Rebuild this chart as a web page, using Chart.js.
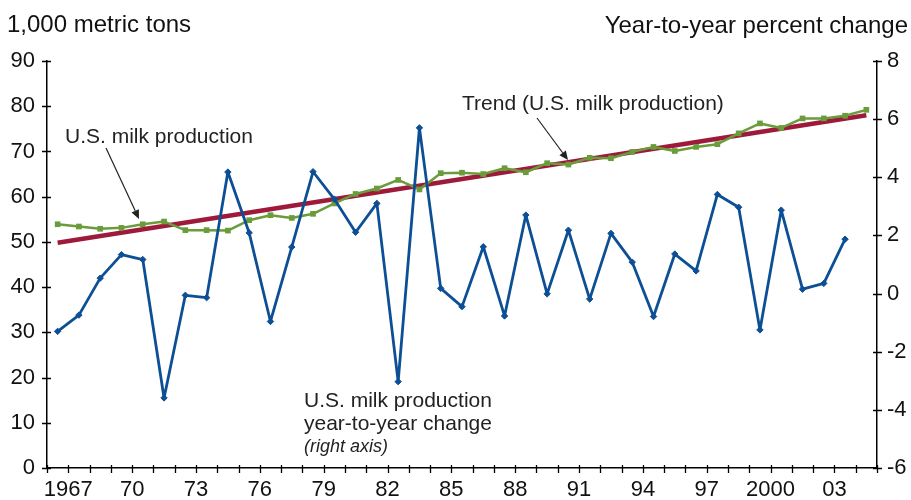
<!DOCTYPE html>
<html><head><meta charset="utf-8">
<script src="https://cdn.jsdelivr.net/npm/chart.js@4.4.1/dist/chart.umd.min.js"></script>
<style>html,body{margin:0;padding:0;background:#fff}#wrap{width:911px;height:500px;position:relative}</style>
</head><body><div id="wrap"><canvas id="c" width="911" height="500"></canvas></div>
<script>
// ---- data ----
const years = [1966,1967,1968,1969,1970,1971,1972,1973,1974,1975,1976,1977,1978,1979,1980,1981,1982,1983,1984,1985,1986,1987,1988,1989,1990,1991,1992,1993,1994,1995,1996,1997,1998,1999,2000,2001,2002,2003,2004];
// U.S. milk production, 1,000 metric tons (left axis)
const production = [53.9,53.4,52.9,53.1,53.9,54.5,52.6,52.6,52.5,54.8,55.9,55.3,56.2,58.5,60.6,61.8,63.7,61.6,65.2,65.3,65.0,66.3,65.4,67.4,67.1,68.6,68.5,69.9,71.0,70.1,71.0,71.6,74.0,76.2,75.2,77.3,77.3,77.9,79.2];
// Year-to-year percent change (right axis)
const pctChange = [-1.30,-0.74,0.53,1.34,1.17,-3.59,-0.06,-0.14,4.18,2.09,-0.96,1.60,4.19,3.25,2.11,3.10,-3.03,5.70,0.18,-0.45,1.61,-0.77,2.70,-0.01,2.18,-0.19,2.07,1.08,-0.79,1.36,0.78,3.41,2.97,-1.25,2.87,0.15,0.35,1.87];
// Trend line end points
const trendYears = [1966, 2004];
const trendValues = [49.8, 78.0];
// x-axis tick labels
const tickYears = [1967,1970,1973,1976,1979,1982,1985,1988,1991,1994,1997,2000,2003];
const tickLabels = ['1967','70','73','76','79','82','85','88','91','94','97','2000','03'];
const leftTitle = '1,000 metric tons';
const rightTitle = 'Year-to-year percent change';

const FONT = '"Liberation Sans", Arial, Helvetica, sans-serif';
const BLUE = '#0c4f94';
const GREEN = '#6a9c3b';
const RED = '#9e1a3a';
const TXT = '#222';

const boundaries = [];
for (let y = years[0]; y <= years[years.length-1] + 1; y++) boundaries.push(y);

const tickMarks = {
  id: 'tickMarks',
  afterDraw(chart) {
    const ctx = chart.ctx;
    ctx.save();
    ctx.strokeStyle = '#000';
    ctx.lineWidth = 1.3;
    const x = chart.scales.x, y = chart.scales.y, y1 = chart.scales.y1;
    const ca = chart.chartArea;
    ctx.beginPath();
    x.ticks.forEach(t => {
      const px = Math.round(x.getPixelForValue(t.value)) + 0.5;
      ctx.moveTo(px, ca.bottom - 3); ctx.lineTo(px, ca.bottom + 5);
    });
    y.ticks.forEach(t => {
      const py = Math.round(y.getPixelForValue(t.value)) + 0.5;
      ctx.moveTo(ca.left - 5, py); ctx.lineTo(ca.left + 4, py);
    });
    y1.ticks.forEach(t => {
      const py = Math.round(y1.getPixelForValue(t.value)) + 0.5;
      ctx.moveTo(ca.right - 4, py); ctx.lineTo(ca.right + 5, py);
    });
    ctx.stroke();

    // titles
    ctx.fillStyle = '#111';
    ctx.font = '24px ' + FONT;
    ctx.textBaseline = 'alphabetic';
    ctx.textAlign = 'left';
    ctx.fillText(leftTitle, 7, 32);
    ctx.textAlign = 'right';
    ctx.fillText(rightTitle, 908, 33);

    // annotations
    ctx.fillStyle = TXT;
    ctx.textAlign = 'left';
    ctx.font = '21px ' + FONT;
    ctx.fillText('U.S. milk production', 65, 143);
    ctx.fillText('Trend (U.S. milk production)', 462, 110);
    ctx.fillText('U.S. milk production', 304, 407);
    ctx.fillText('year-to-year change', 304, 430);
    ctx.font = 'italic 18px ' + FONT;
    ctx.fillText('(right axis)', 304, 452);

    const arrow = (x0, y0, x1, y1) => {
      ctx.strokeStyle = '#222';
      ctx.fillStyle = '#222';
      ctx.lineWidth = 1.2;
      const a = Math.atan2(y1 - y0, x1 - x0);
      const L = 9, W = 4;
      const bx = x1 - L * Math.cos(a), by = y1 - L * Math.sin(a);
      ctx.beginPath(); ctx.moveTo(x0, y0); ctx.lineTo(bx, by); ctx.stroke();
      ctx.beginPath();
      ctx.moveTo(x1, y1);
      ctx.lineTo(bx + W * Math.sin(a), by - W * Math.cos(a));
      ctx.lineTo(bx - W * Math.sin(a), by + W * Math.cos(a));
      ctx.closePath(); ctx.fill();
    };
    arrow(106, 148, 139, 219);
    arrow(537, 118, 568, 160);
    ctx.restore();
  }
};

new Chart(document.getElementById('c'), {
  type: 'line',
  data: {
    datasets: [
      {
        label: 'U.S. milk production year-to-year change',
        data: pctChange.map((v, i) => ({x: years[i] + 0.5, y: v})),
        yAxisID: 'y1',
        borderColor: BLUE, backgroundColor: BLUE,
        borderWidth: 2.8, borderJoinStyle: 'round', pointStyle: 'rectRot', pointRadius: 3.2,
        pointBorderWidth: 1, tension: 0, order: 0
      },
      {
        label: 'U.S. milk production',
        data: production.map((v, i) => ({x: years[i] + 0.5, y: v})),
        yAxisID: 'y',
        borderColor: GREEN, backgroundColor: GREEN,
        borderWidth: 2.5, borderJoinStyle: 'round', pointStyle: 'rect', pointRadius: 4,
        pointBorderWidth: 0, tension: 0, order: 1
      },
      {
        label: 'Trend (U.S. milk production)',
        data: trendYears.map((yr, i) => ({x: yr + 0.5, y: trendValues[i]})),
        yAxisID: 'y',
        borderColor: RED, backgroundColor: RED,
        borderWidth: 4.5, pointRadius: 0, tension: 0, order: 2
      }
    ]
  },
  options: {
    responsive: false, animation: false,
    layout: {padding: {top: 61, left: 0, right: 0, bottom: 0}},
    plugins: {legend: {display: false}, tooltip: {enabled: false}},
    scales: {
      x: {
        type: 'linear', position: 'bottom',
        min: boundaries[0], max: boundaries[boundaries.length - 1],
        afterBuildTicks: s => { s.ticks = boundaries.map(v => ({value: v})); },
        afterFit: s => { s.height = 32; },
        grid: {display: false},
        border: {display: true, color: '#000', width: 1.5},
        ticks: {
          autoSkip: false, maxRotation: 0, minRotation: 0, padding: 1,
          color: '#111', font: {size: 22, family: FONT},
          callback: v => { const k = tickYears.indexOf(v); return k >= 0 ? tickLabels[k] : ''; }
        }
      },
      y: {
        position: 'left', min: 0, max: 90,
        afterFit: s => { s.width = 47; },
        grid: {display: false},
        border: {display: true, color: '#000', width: 1.5},
        ticks: {stepSize: 10, padding: 4, color: '#111', font: {size: 22, family: FONT}}
      },
      y1: {
        position: 'right', min: -6, max: 8,
        afterFit: s => { s.width = 34; },
        grid: {display: false},
        border: {display: true, color: '#000', width: 1.5},
        ticks: {stepSize: 2, padding: 2, color: '#111', font: {size: 22, family: FONT}}
      }
    }
  },
  plugins: [tickMarks]
});
</script></body></html>
